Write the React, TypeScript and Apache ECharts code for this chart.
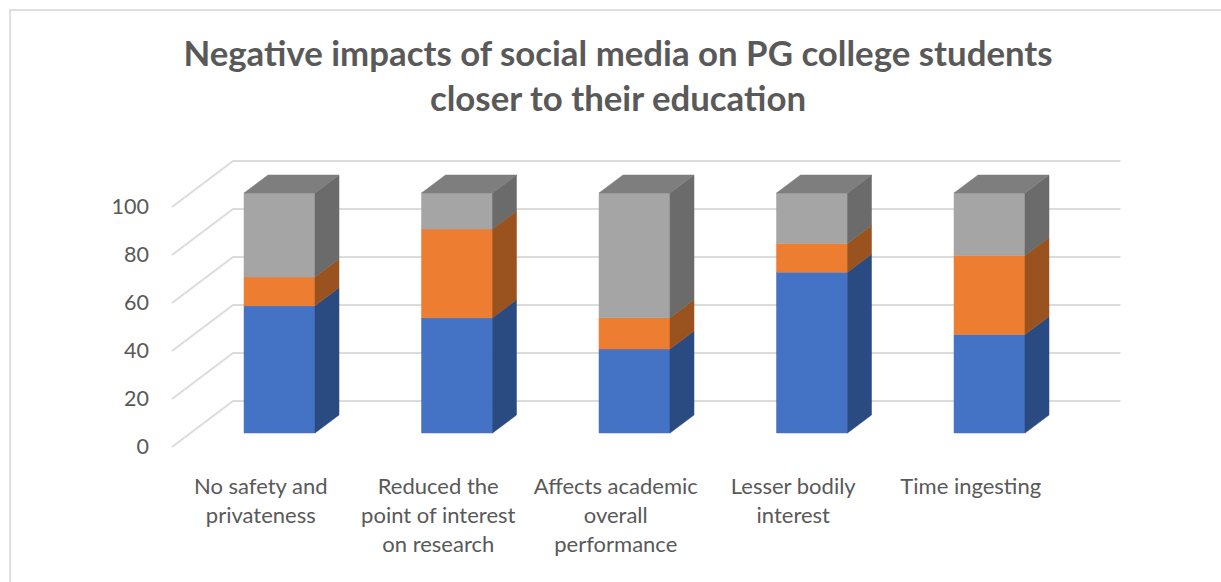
import React, { useEffect, useRef } from "react";
import * as echarts from "echarts";

const titleText = "Negative impacts of social media on PG college students\ncloser to their education";
const categories = [
  "No safety and\nprivateness",
  "Reduced the\npoint of interest\non research",
  "Affects academic\noverall\nperformance",
  "Lesser bodily\ninterest",
  "Time ingesting",
];
const ticks = [0, 20, 40, 60, 80, 100];
const blueValues = [53, 48, 35, 67, 41];
const orangeValues = [12, 37, 13, 12, 33];
const grayValues = [35, 15, 52, 21, 26];

const FONT = "Lato";
const TEXT = "#595959";
const WALL_DX = 61;
const WALL_DY = 46;
const BAR_DX = 18.75;
const BAR_DY = 14;
const BAR_W = 71;
const DEPTH_X = 24;
const DEPTH_Y = 18;

const wallItem = (params: any, api: any) => {
  const cs = params.coordSys;
  const y = api.coord([0, api.value(1)])[1];
  return {
    type: "polyline",
    silent: true,
    shape: {
      points: [
        [cs.x, y],
        [cs.x + WALL_DX, y - WALL_DY],
        [cs.x + cs.width + WALL_DX, y - WALL_DY],
      ],
    },
    style: { fill: "none", stroke: "#DCDCDC", lineWidth: 2 },
  };
};

const poly = (points: number[][], color: string) => ({
  type: "polygon",
  silent: true,
  shape: { points },
  style: { fill: color, stroke: color, lineWidth: 0.5 },
});

const barItem = (front: string, side: string, top?: string) => (_: any, api: any) => {
  const cat = api.value(0);
  const base = api.coord([cat, api.value(1)]);
  const head = api.coord([cat, api.value(2)]);
  const xl = base[0] + BAR_DX - BAR_W / 2;
  const xr = xl + BAR_W;
  const yb = base[1] - BAR_DY;
  const yt = head[1] - BAR_DY;
  const children: any[] = [
    poly([[xl, yb], [xr, yb], [xr, yt], [xl, yt]], front),
    poly([[xr, yb], [xr + DEPTH_X, yb - DEPTH_Y], [xr + DEPTH_X, yt - DEPTH_Y], [xr, yt]], side),
  ];
  if (top) {
    children.push(poly([[xl, yt], [xr, yt], [xr + DEPTH_X, yt - DEPTH_Y], [xl + DEPTH_X, yt - DEPTH_Y]], top));
  }
  return { type: "group", children };
};

const ranges = (vals: number[], under: number[]) => vals.map((v, i) => [i, under[i], under[i] + v]);

export default function App() {
  const ref = useRef<HTMLDivElement>(null);
  useEffect(() => {
    document.body.style.margin = "0";
    const chart = echarts.init(ref.current!, null, { renderer: "svg" });
    const blueTop = blueValues;
    const orangeTop = blueValues.map((v, i) => v + orangeValues[i]);
    const zero = blueValues.map(() => 0);
    const barSeries = (name: string, data: number[][], item: any) => ({
      type: "custom",
      name,
      renderItem: item,
      data,
      encode: { x: 0, y: [1, 2] },
      clip: false,
      silent: true,
    });
    chart.setOption({
      animation: false,
      backgroundColor: "#ffffff",
      title: {
        text: titleText,
        left: 613,
        top: 25,
        textAlign: "center",
        textStyle: { fontFamily: FONT, fontWeight: "bold", fontSize: 34.8, lineHeight: 45, color: TEXT },
      },
      graphic: [
        {
          type: "polyline",
          silent: true,
          shape: { points: [[10, 582], [10, 10], [1221, 10]] },
          style: { fill: "none", stroke: "#DEDEDE", lineWidth: 2 },
        },
      ],
      grid: { left: 172, top: 207, width: 887.5, height: 240 },
      xAxis: {
        type: "category",
        data: categories,
        axisLine: { show: false },
        axisTick: { show: false },
        splitLine: { show: false },
        axisLabel: {
          interval: 0,
          margin: 24,
          fontFamily: FONT,
          fontSize: 22,
          lineHeight: 29,
          color: TEXT,
        },
      },
      yAxis: {
        type: "value",
        min: 0,
        max: 100,
        interval: 20,
        axisLine: { show: false },
        axisTick: { show: false },
        splitLine: { show: false },
        axisLabel: { margin: 23, fontFamily: FONT, fontSize: 21.5, color: TEXT, verticalAlign: "bottom", lineHeight: 2 },
      },
      series: [
        {
          type: "custom",
          name: "wall",
          renderItem: wallItem,
          data: ticks.map((t) => [0, t]),
          encode: { x: 0, y: 1 },
          clip: false,
          silent: true,
          z: 1,
        },
        barSeries("Blue", ranges(blueValues, zero), barItem("#4472C4", "#2A4A82")),
        barSeries("Orange", ranges(orangeValues, blueTop), barItem("#ED7D31", "#9A521E")),
        barSeries("Gray", ranges(grayValues, orangeTop), barItem("#A5A5A5", "#6B6B6B", "#7E7E7E")),
      ],
    });
    return () => chart.dispose();
  }, []);
  return <div ref={ref} style={{ width: 1221, height: 582 }} />;
}
